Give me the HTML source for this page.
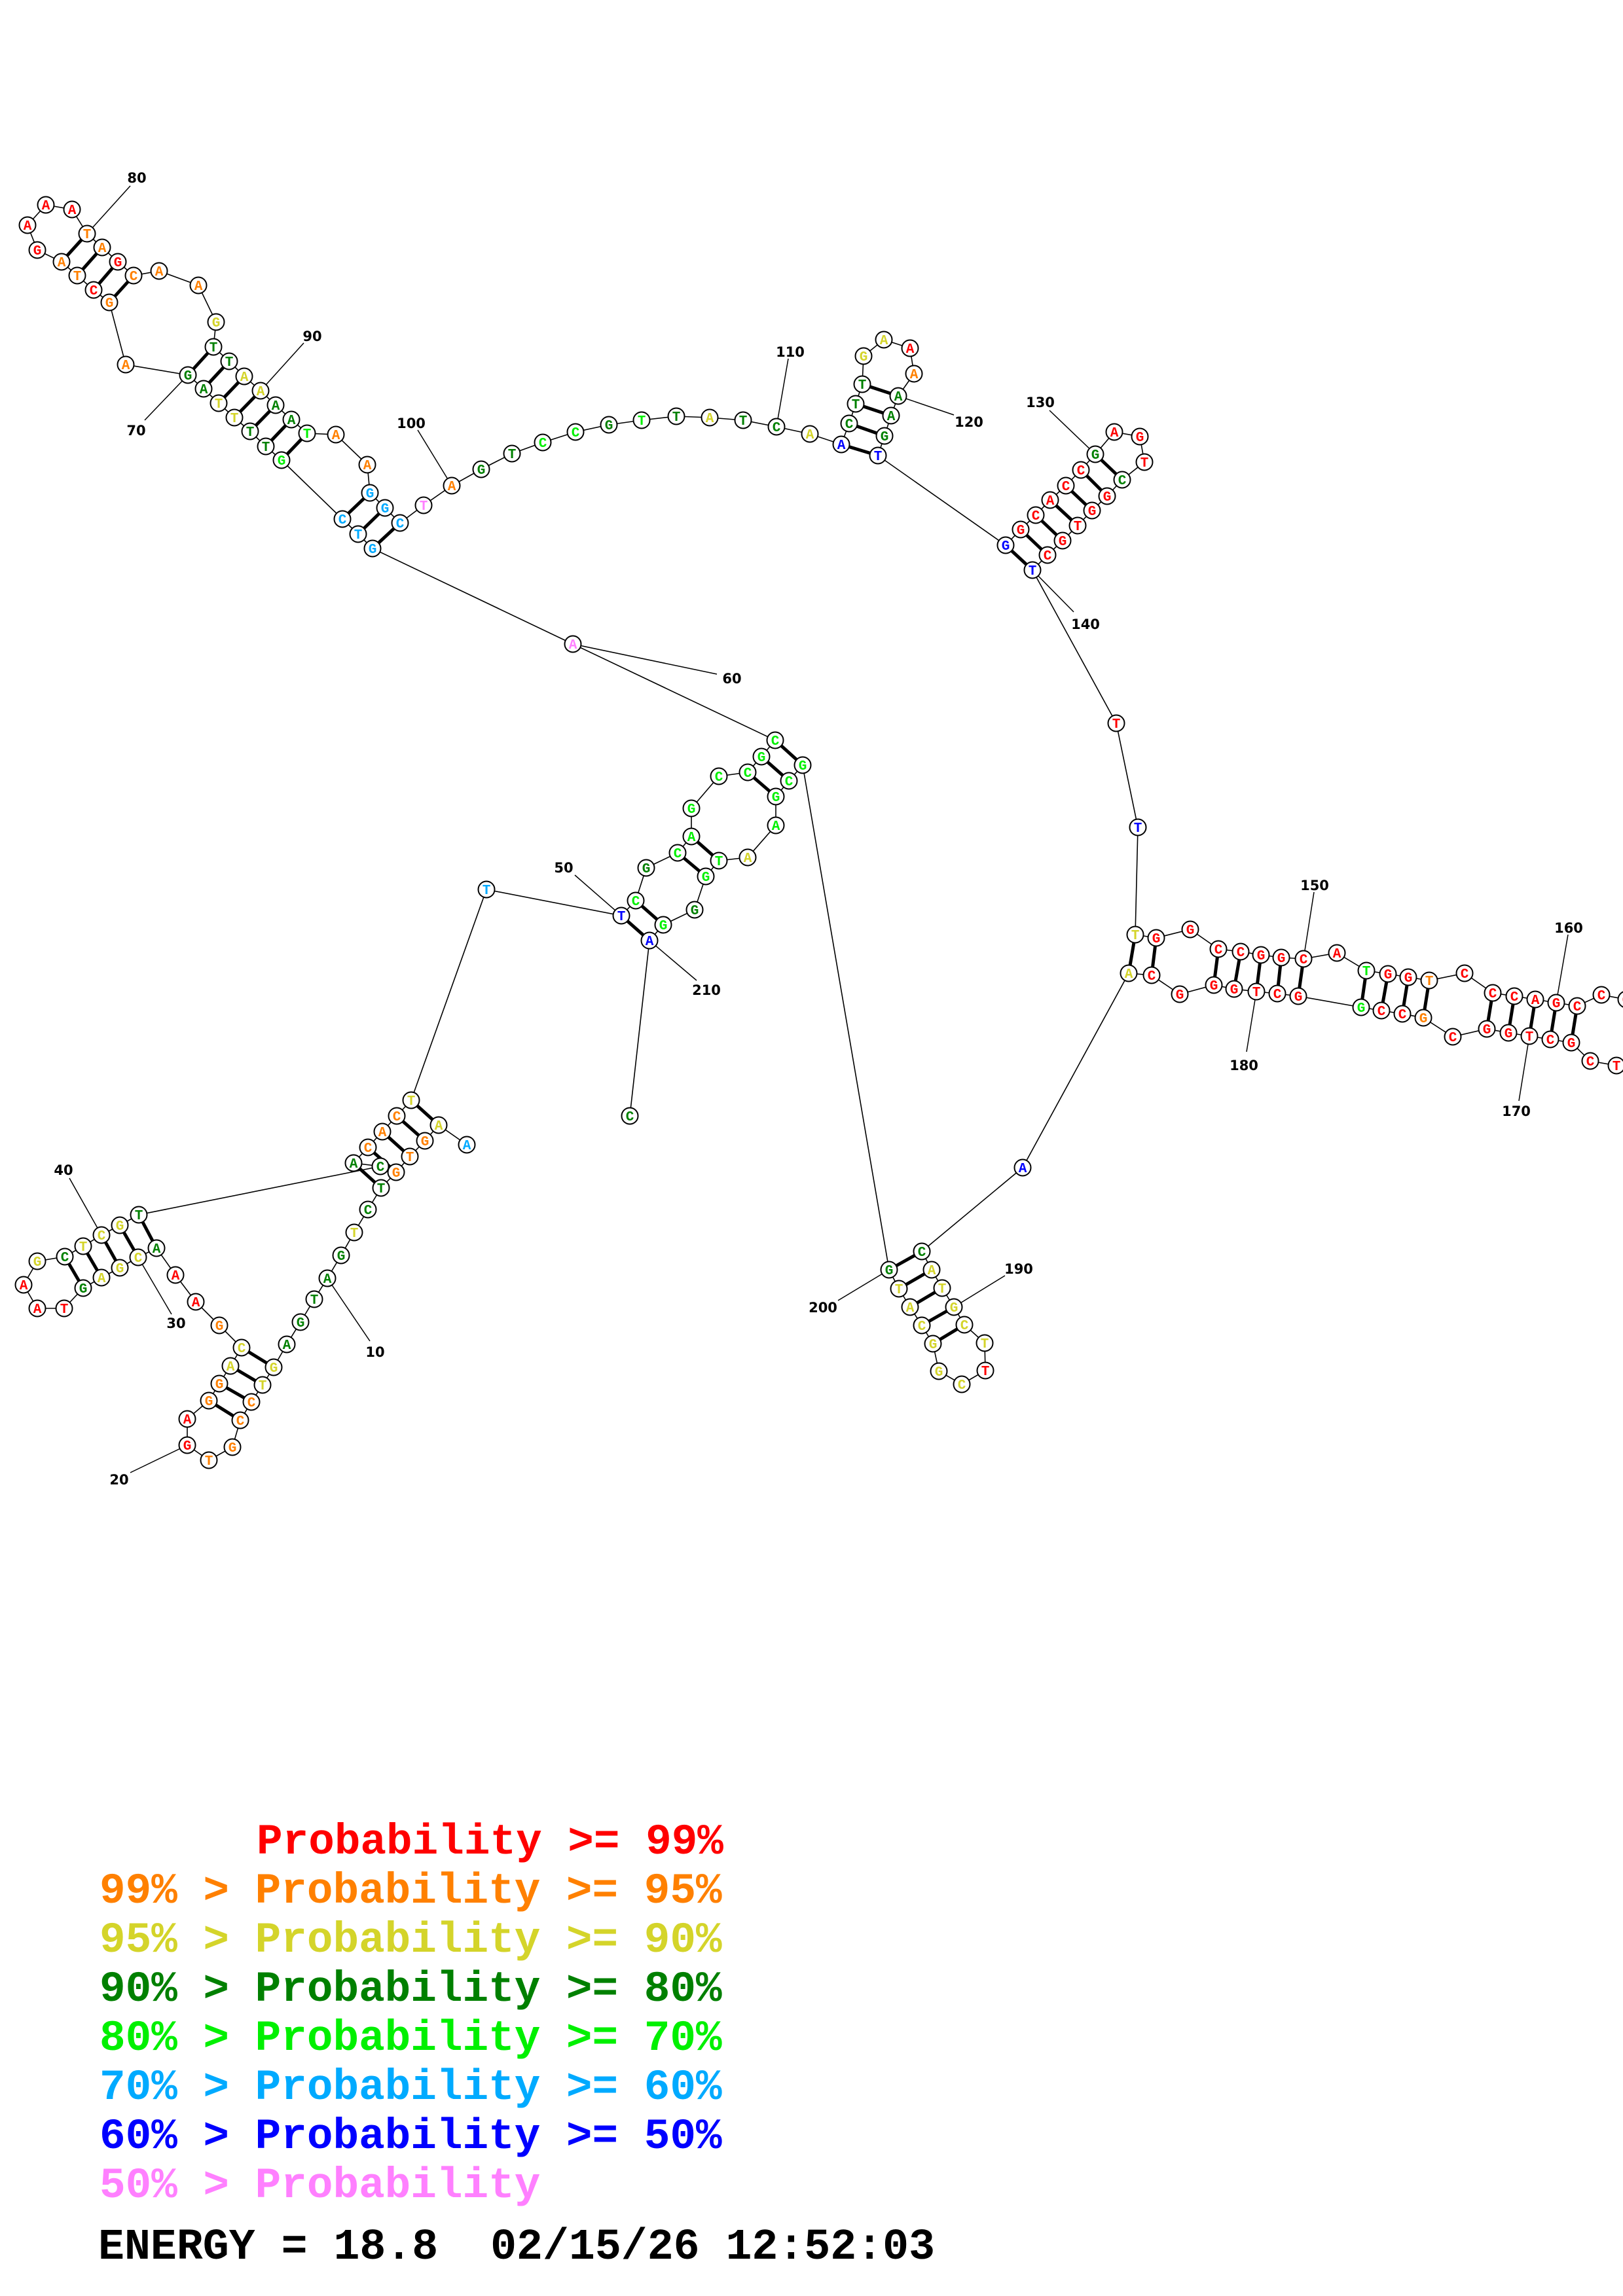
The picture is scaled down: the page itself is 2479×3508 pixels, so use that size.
<!DOCTYPE html>
<html><head><meta charset="utf-8"><style>
html,body{margin:0;padding:0;background:#fff;}
svg{display:block}
.n circle{fill:#fff;stroke:#000;stroke-width:2}
.t text{font-family:"Liberation Mono",monospace;font-weight:bold;font-size:21px;text-anchor:middle}
.r{fill:#ff0000}.o{fill:#ff8000}.y{fill:#d4d42a}.g{fill:#008000}.G{fill:#00f000}.c{fill:#00aaff}.b{fill:#0000ff}.p{fill:#ff80ff}
.lb text{font-family:"DejaVu Sans",sans-serif;font-weight:bold;font-size:21px;text-anchor:middle}
.lg text{font-family:"Liberation Mono",monospace;font-weight:bold;font-size:66px;white-space:pre}
</style></head><body>
<svg width="2479" height="3508" viewBox="0 0 2479 3508" xmlns="http://www.w3.org/2000/svg">
<rect width="2479" height="3508" fill="#fff"/>
<polyline fill="none" stroke="#000" stroke-width="1.6" points="713,1749 670,1719 649,1743 626,1767 605,1791 582,1815 562,1848 541,1883 521,1918 500,1953 480,1985 459,2020 438,2054 418,2089 401,2116 384,2142 367,2170 355,2211 319,2231 286,2208 286,2168 319,2140 335,2114 352,2087 369,2059 335,2025 299,1989 268,1948 239,1907 211,1921 183,1937 155,1952 127,1968 98,1999 57,1999 36,1963 57,1927 99,1920 127,1904 155,1887 183,1872 212,1856 581,1782 540,1777 562,1753 584,1729 606,1705 628,1681 743,1359 949,1399 971,1376 987,1326 1035,1303 1056,1278 1056,1235 1098,1186 1142,1180 1163,1156 1184,1131 875,984 569,838 547,816 523,793 430,703 406,682 382,659 358,638 334,616 311,594 287,573 192,557 167,462 143,443 118,421 94,400 57,382 42,344 70,313 110,320 133,357 156,378 180,400 204,421 243,414 303,436 330,492 326,530 350,552 373,575 398,597 421,619 445,641 469,662 513,664 561,710 565,753 588,776 611,799 647,772 690,742 735,717 782,693 829,676 879,660 930,649 980,642 1033,636 1084,638 1135,642 1186,652 1237,663 1285,679 1297,647 1307,617 1317,587 1319,544 1350,519 1390,532 1396,571 1372,605 1361,635 1351,666 1341,696 1536,833 1559,809 1582,787 1604,764 1628,742 1651,718 1673,694 1702,660 1741,667 1748,706 1714,733 1691,758 1668,780 1646,803 1623,826 1600,848 1577,871 1705,1105 1738,1264 1734,1428 1766,1433 1818,1420 1861,1450 1895,1454 1926,1459 1957,1463 1991,1465 2042,1456 2087,1483 2120,1488 2151,1493 2183,1498 2237,1487 2280,1517 2313,1522 2345,1527 2377,1532 2409,1537 2446,1520 2484,1527 2510,1560 2500,1610 2469,1628 2429,1621 2400,1593 2368,1588 2336,1583 2304,1578 2271,1572 2219,1584 2174,1555 2142,1549 2110,1544 2079,1539 1983,1522 1951,1518 1919,1515 1885,1511 1854,1505 1802,1519 1759,1490 1724,1487 1562,1784 1408,1912 1423,1940 1439,1968 1457,1997 1473,2024 1504,2052 1505,2094 1469,2115 1434,2095 1425,2053 1408,2025 1390,1997 1373,1969 1358,1940 1226,1169 1205,1193 1185,1217 1185,1261 1142,1310 1098,1315 1078,1339 1061,1390 1013,1413 992,1437 962,1705"/>
<g stroke="#000" stroke-width="5">
<line x1="628" y1="1681" x2="670" y2="1719"/><line x1="606" y1="1705" x2="649" y2="1743"/><line x1="584" y1="1729" x2="626" y2="1767"/><line x1="562" y1="1753" x2="605" y2="1791"/><line x1="540" y1="1777" x2="582" y2="1815"/>
<line x1="369" y1="2059" x2="418" y2="2089"/><line x1="352" y1="2087" x2="401" y2="2116"/><line x1="335" y1="2114" x2="384" y2="2142"/><line x1="319" y1="2140" x2="367" y2="2170"/>
<line x1="212" y1="1856" x2="239" y2="1907"/><line x1="183" y1="1872" x2="211" y2="1921"/><line x1="155" y1="1887" x2="183" y2="1937"/><line x1="127" y1="1904" x2="155" y2="1952"/><line x1="99" y1="1920" x2="127" y2="1968"/>
<line x1="949" y1="1399" x2="992" y2="1437"/><line x1="971" y1="1376" x2="1013" y2="1413"/><line x1="1035" y1="1303" x2="1078" y2="1339"/><line x1="1056" y1="1278" x2="1098" y2="1315"/><line x1="1142" y1="1180" x2="1185" y2="1217"/><line x1="1163" y1="1156" x2="1205" y2="1193"/><line x1="1184" y1="1131" x2="1226" y2="1169"/>
<line x1="569" y1="838" x2="611" y2="799"/><line x1="547" y1="816" x2="588" y2="776"/><line x1="523" y1="793" x2="565" y2="753"/>
<line x1="430" y1="703" x2="469" y2="662"/><line x1="406" y1="682" x2="445" y2="641"/><line x1="382" y1="659" x2="421" y2="619"/><line x1="358" y1="638" x2="398" y2="597"/><line x1="334" y1="616" x2="373" y2="575"/><line x1="311" y1="594" x2="350" y2="552"/><line x1="287" y1="573" x2="326" y2="530"/>
<line x1="94" y1="400" x2="133" y2="357"/><line x1="118" y1="421" x2="156" y2="378"/><line x1="143" y1="443" x2="180" y2="400"/><line x1="167" y1="462" x2="204" y2="421"/>
<line x1="1285" y1="679" x2="1341" y2="696"/><line x1="1297" y1="647" x2="1351" y2="666"/><line x1="1307" y1="617" x2="1361" y2="635"/><line x1="1317" y1="587" x2="1372" y2="605"/>
<line x1="1536" y1="833" x2="1577" y2="871"/><line x1="1559" y1="809" x2="1600" y2="848"/><line x1="1582" y1="787" x2="1623" y2="826"/><line x1="1604" y1="764" x2="1646" y2="803"/><line x1="1628" y1="742" x2="1668" y2="780"/><line x1="1651" y1="718" x2="1691" y2="758"/><line x1="1673" y1="694" x2="1714" y2="733"/>
<line x1="1734" y1="1428" x2="1724" y2="1487"/><line x1="1766" y1="1433" x2="1759" y2="1490"/><line x1="1861" y1="1450" x2="1854" y2="1505"/><line x1="1895" y1="1454" x2="1885" y2="1511"/><line x1="1926" y1="1459" x2="1919" y2="1515"/><line x1="1957" y1="1463" x2="1951" y2="1518"/><line x1="1991" y1="1465" x2="1983" y2="1522"/>
<line x1="2087" y1="1483" x2="2079" y2="1539"/><line x1="2120" y1="1488" x2="2110" y2="1544"/><line x1="2151" y1="1493" x2="2142" y2="1549"/><line x1="2183" y1="1498" x2="2174" y2="1555"/>
<line x1="2280" y1="1517" x2="2271" y2="1572"/><line x1="2313" y1="1522" x2="2304" y2="1578"/><line x1="2345" y1="1527" x2="2336" y2="1583"/><line x1="2377" y1="1532" x2="2368" y2="1588"/><line x1="2409" y1="1537" x2="2400" y2="1593"/>
<line x1="1408" y1="1912" x2="1358" y2="1940"/><line x1="1423" y1="1940" x2="1373" y2="1969"/><line x1="1439" y1="1968" x2="1390" y2="1997"/><line x1="1457" y1="1997" x2="1408" y2="2025"/><line x1="1473" y1="2024" x2="1425" y2="2053"/>
</g>
<g stroke="#000" stroke-width="1.5">
<line x1="565" y1="2049" x2="500" y2="1953"/><line x1="199" y1="2250" x2="286" y2="2208"/><line x1="262" y1="2008" x2="211" y2="1921"/><line x1="106" y1="1800" x2="155" y2="1887"/>
<line x1="878" y1="1337" x2="949" y2="1399"/><line x1="1095" y1="1030" x2="875" y2="984"/><line x1="221" y1="642" x2="287" y2="573"/><line x1="199" y1="284" x2="133" y2="357"/>
<line x1="464" y1="524" x2="398" y2="597"/><line x1="638" y1="657" x2="690" y2="742"/><line x1="1204" y1="548" x2="1186" y2="652"/><line x1="1457" y1="634" x2="1372" y2="605"/>
<line x1="1603" y1="627" x2="1673" y2="694"/><line x1="1640" y1="935" x2="1577" y2="871"/><line x1="2007" y1="1363" x2="1991" y2="1465"/><line x1="2395" y1="1428" x2="2377" y2="1532"/>
<line x1="2320" y1="1682" x2="2336" y2="1583"/><line x1="1904" y1="1607" x2="1919" y2="1515"/><line x1="1535" y1="1949" x2="1457" y2="1997"/><line x1="1280" y1="1987" x2="1358" y2="1940"/><line x1="1064" y1="1498" x2="992" y2="1437"/>
</g>
<g class="lb">
<text x="573" y="2073">10</text><text x="182" y="2268">20</text><text x="269" y="2029">30</text><text x="97" y="1795">40</text><text x="861" y="1333">50</text><text x="1118" y="1044">60</text><text x="208" y="665">70</text><text x="209" y="279">80</text><text x="477" y="521">90</text><text x="628" y="654">100</text><text x="1207" y="545">110</text><text x="1480" y="652">120</text><text x="1589" y="622">130</text><text x="1658" y="961">140</text><text x="2008" y="1360">150</text><text x="2396" y="1425">160</text><text x="2316" y="1705">170</text><text x="1900" y="1635">180</text><text x="1556" y="1946">190</text><text x="1257" y="2005">200</text><text x="1079" y="1520">210</text>
</g>
<g class="n">
<circle cx="713" cy="1749" r="12.5"/><circle cx="670" cy="1719" r="12.5"/><circle cx="649" cy="1743" r="12.5"/><circle cx="626" cy="1767" r="12.5"/><circle cx="605" cy="1791" r="12.5"/><circle cx="582" cy="1815" r="12.5"/><circle cx="562" cy="1848" r="12.5"/><circle cx="541" cy="1883" r="12.5"/><circle cx="521" cy="1918" r="12.5"/><circle cx="500" cy="1953" r="12.5"/><circle cx="480" cy="1985" r="12.5"/><circle cx="459" cy="2020" r="12.5"/><circle cx="438" cy="2054" r="12.5"/><circle cx="418" cy="2089" r="12.5"/><circle cx="401" cy="2116" r="12.5"/><circle cx="384" cy="2142" r="12.5"/><circle cx="367" cy="2170" r="12.5"/><circle cx="355" cy="2211" r="12.5"/><circle cx="319" cy="2231" r="12.5"/><circle cx="286" cy="2208" r="12.5"/><circle cx="286" cy="2168" r="12.5"/><circle cx="319" cy="2140" r="12.5"/><circle cx="335" cy="2114" r="12.5"/><circle cx="352" cy="2087" r="12.5"/><circle cx="369" cy="2059" r="12.5"/><circle cx="335" cy="2025" r="12.5"/><circle cx="299" cy="1989" r="12.5"/><circle cx="268" cy="1948" r="12.5"/><circle cx="239" cy="1907" r="12.5"/><circle cx="211" cy="1921" r="12.5"/><circle cx="183" cy="1937" r="12.5"/><circle cx="155" cy="1952" r="12.5"/><circle cx="127" cy="1968" r="12.5"/><circle cx="98" cy="1999" r="12.5"/><circle cx="57" cy="1999" r="12.5"/><circle cx="36" cy="1963" r="12.5"/><circle cx="57" cy="1927" r="12.5"/><circle cx="99" cy="1920" r="12.5"/><circle cx="127" cy="1904" r="12.5"/><circle cx="155" cy="1887" r="12.5"/><circle cx="183" cy="1872" r="12.5"/><circle cx="212" cy="1856" r="12.5"/><circle cx="581" cy="1782" r="12.5"/><circle cx="540" cy="1777" r="12.5"/><circle cx="562" cy="1753" r="12.5"/><circle cx="584" cy="1729" r="12.5"/><circle cx="606" cy="1705" r="12.5"/><circle cx="628" cy="1681" r="12.5"/><circle cx="743" cy="1359" r="12.5"/><circle cx="949" cy="1399" r="12.5"/><circle cx="971" cy="1376" r="12.5"/><circle cx="987" cy="1326" r="12.5"/><circle cx="1035" cy="1303" r="12.5"/><circle cx="1056" cy="1278" r="12.5"/><circle cx="1056" cy="1235" r="12.5"/><circle cx="1098" cy="1186" r="12.5"/><circle cx="1142" cy="1180" r="12.5"/><circle cx="1163" cy="1156" r="12.5"/><circle cx="1184" cy="1131" r="12.5"/><circle cx="875" cy="984" r="12.5"/><circle cx="569" cy="838" r="12.5"/><circle cx="547" cy="816" r="12.5"/><circle cx="523" cy="793" r="12.5"/><circle cx="430" cy="703" r="12.5"/><circle cx="406" cy="682" r="12.5"/><circle cx="382" cy="659" r="12.5"/><circle cx="358" cy="638" r="12.5"/><circle cx="334" cy="616" r="12.5"/><circle cx="311" cy="594" r="12.5"/><circle cx="287" cy="573" r="12.5"/><circle cx="192" cy="557" r="12.5"/><circle cx="167" cy="462" r="12.5"/><circle cx="143" cy="443" r="12.5"/><circle cx="118" cy="421" r="12.5"/><circle cx="94" cy="400" r="12.5"/><circle cx="57" cy="382" r="12.5"/><circle cx="42" cy="344" r="12.5"/><circle cx="70" cy="313" r="12.5"/><circle cx="110" cy="320" r="12.5"/><circle cx="133" cy="357" r="12.5"/><circle cx="156" cy="378" r="12.5"/><circle cx="180" cy="400" r="12.5"/><circle cx="204" cy="421" r="12.5"/><circle cx="243" cy="414" r="12.5"/><circle cx="303" cy="436" r="12.5"/><circle cx="330" cy="492" r="12.5"/><circle cx="326" cy="530" r="12.5"/><circle cx="350" cy="552" r="12.5"/><circle cx="373" cy="575" r="12.5"/><circle cx="398" cy="597" r="12.5"/><circle cx="421" cy="619" r="12.5"/><circle cx="445" cy="641" r="12.5"/><circle cx="469" cy="662" r="12.5"/><circle cx="513" cy="664" r="12.5"/><circle cx="561" cy="710" r="12.5"/><circle cx="565" cy="753" r="12.5"/><circle cx="588" cy="776" r="12.5"/><circle cx="611" cy="799" r="12.5"/><circle cx="647" cy="772" r="12.5"/><circle cx="690" cy="742" r="12.5"/><circle cx="735" cy="717" r="12.5"/><circle cx="782" cy="693" r="12.5"/><circle cx="829" cy="676" r="12.5"/><circle cx="879" cy="660" r="12.5"/><circle cx="930" cy="649" r="12.5"/><circle cx="980" cy="642" r="12.5"/><circle cx="1033" cy="636" r="12.5"/><circle cx="1084" cy="638" r="12.5"/><circle cx="1135" cy="642" r="12.5"/><circle cx="1186" cy="652" r="12.5"/><circle cx="1237" cy="663" r="12.5"/><circle cx="1285" cy="679" r="12.5"/><circle cx="1297" cy="647" r="12.5"/><circle cx="1307" cy="617" r="12.5"/><circle cx="1317" cy="587" r="12.5"/><circle cx="1319" cy="544" r="12.5"/><circle cx="1350" cy="519" r="12.5"/><circle cx="1390" cy="532" r="12.5"/><circle cx="1396" cy="571" r="12.5"/><circle cx="1372" cy="605" r="12.5"/><circle cx="1361" cy="635" r="12.5"/><circle cx="1351" cy="666" r="12.5"/><circle cx="1341" cy="696" r="12.5"/><circle cx="1536" cy="833" r="12.5"/><circle cx="1559" cy="809" r="12.5"/><circle cx="1582" cy="787" r="12.5"/><circle cx="1604" cy="764" r="12.5"/><circle cx="1628" cy="742" r="12.5"/><circle cx="1651" cy="718" r="12.5"/><circle cx="1673" cy="694" r="12.5"/><circle cx="1702" cy="660" r="12.5"/><circle cx="1741" cy="667" r="12.5"/><circle cx="1748" cy="706" r="12.5"/><circle cx="1714" cy="733" r="12.5"/><circle cx="1691" cy="758" r="12.5"/><circle cx="1668" cy="780" r="12.5"/><circle cx="1646" cy="803" r="12.5"/><circle cx="1623" cy="826" r="12.5"/><circle cx="1600" cy="848" r="12.5"/><circle cx="1577" cy="871" r="12.5"/><circle cx="1705" cy="1105" r="12.5"/><circle cx="1738" cy="1264" r="12.5"/><circle cx="1734" cy="1428" r="12.5"/><circle cx="1766" cy="1433" r="12.5"/><circle cx="1818" cy="1420" r="12.5"/><circle cx="1861" cy="1450" r="12.5"/><circle cx="1895" cy="1454" r="12.5"/><circle cx="1926" cy="1459" r="12.5"/><circle cx="1957" cy="1463" r="12.5"/><circle cx="1991" cy="1465" r="12.5"/><circle cx="2042" cy="1456" r="12.5"/><circle cx="2087" cy="1483" r="12.5"/><circle cx="2120" cy="1488" r="12.5"/><circle cx="2151" cy="1493" r="12.5"/><circle cx="2183" cy="1498" r="12.5"/><circle cx="2237" cy="1487" r="12.5"/><circle cx="2280" cy="1517" r="12.5"/><circle cx="2313" cy="1522" r="12.5"/><circle cx="2345" cy="1527" r="12.5"/><circle cx="2377" cy="1532" r="12.5"/><circle cx="2409" cy="1537" r="12.5"/><circle cx="2446" cy="1520" r="12.5"/><circle cx="2484" cy="1527" r="12.5"/><circle cx="2469" cy="1628" r="12.5"/><circle cx="2429" cy="1621" r="12.5"/><circle cx="2400" cy="1593" r="12.5"/><circle cx="2368" cy="1588" r="12.5"/><circle cx="2336" cy="1583" r="12.5"/><circle cx="2304" cy="1578" r="12.5"/><circle cx="2271" cy="1572" r="12.5"/><circle cx="2219" cy="1584" r="12.5"/><circle cx="2174" cy="1555" r="12.5"/><circle cx="2142" cy="1549" r="12.5"/><circle cx="2110" cy="1544" r="12.5"/><circle cx="2079" cy="1539" r="12.5"/><circle cx="1983" cy="1522" r="12.5"/><circle cx="1951" cy="1518" r="12.5"/><circle cx="1919" cy="1515" r="12.5"/><circle cx="1885" cy="1511" r="12.5"/><circle cx="1854" cy="1505" r="12.5"/><circle cx="1802" cy="1519" r="12.5"/><circle cx="1759" cy="1490" r="12.5"/><circle cx="1724" cy="1487" r="12.5"/><circle cx="1562" cy="1784" r="12.5"/><circle cx="1408" cy="1912" r="12.5"/><circle cx="1423" cy="1940" r="12.5"/><circle cx="1439" cy="1968" r="12.5"/><circle cx="1457" cy="1997" r="12.5"/><circle cx="1473" cy="2024" r="12.5"/><circle cx="1504" cy="2052" r="12.5"/><circle cx="1505" cy="2094" r="12.5"/><circle cx="1469" cy="2115" r="12.5"/><circle cx="1434" cy="2095" r="12.5"/><circle cx="1425" cy="2053" r="12.5"/><circle cx="1408" cy="2025" r="12.5"/><circle cx="1390" cy="1997" r="12.5"/><circle cx="1373" cy="1969" r="12.5"/><circle cx="1358" cy="1940" r="12.5"/><circle cx="1226" cy="1169" r="12.5"/><circle cx="1205" cy="1193" r="12.5"/><circle cx="1185" cy="1217" r="12.5"/><circle cx="1185" cy="1261" r="12.5"/><circle cx="1142" cy="1310" r="12.5"/><circle cx="1098" cy="1315" r="12.5"/><circle cx="1078" cy="1339" r="12.5"/><circle cx="1061" cy="1390" r="12.5"/><circle cx="1013" cy="1413" r="12.5"/><circle cx="992" cy="1437" r="12.5"/><circle cx="962" cy="1705" r="12.5"/>
</g>
<g class="t" transform="translate(0,7)">
<text x="713" y="1749" class="c">A</text><text x="670" y="1719" class="y">A</text><text x="649" y="1743" class="o">G</text><text x="626" y="1767" class="o">T</text><text x="605" y="1791" class="o">G</text><text x="582" y="1815" class="g">T</text><text x="562" y="1848" class="g">C</text><text x="541" y="1883" class="y">T</text><text x="521" y="1918" class="g">G</text><text x="500" y="1953" class="g">A</text><text x="480" y="1985" class="g">T</text><text x="459" y="2020" class="g">G</text><text x="438" y="2054" class="g">A</text><text x="418" y="2089" class="y">G</text><text x="401" y="2116" class="y">T</text><text x="384" y="2142" class="o">C</text><text x="367" y="2170" class="o">C</text><text x="355" y="2211" class="o">G</text><text x="319" y="2231" class="o">T</text><text x="286" y="2208" class="r">G</text><text x="286" y="2168" class="r">A</text><text x="319" y="2140" class="o">G</text><text x="335" y="2114" class="o">G</text><text x="352" y="2087" class="y">A</text><text x="369" y="2059" class="y">C</text><text x="335" y="2025" class="o">G</text><text x="299" y="1989" class="r">A</text><text x="268" y="1948" class="r">A</text><text x="239" y="1907" class="g">A</text><text x="211" y="1921" class="y">C</text><text x="183" y="1937" class="y">G</text><text x="155" y="1952" class="y">A</text><text x="127" y="1968" class="g">G</text><text x="98" y="1999" class="r">T</text><text x="57" y="1999" class="r">A</text><text x="36" y="1963" class="r">A</text><text x="57" y="1927" class="y">G</text><text x="99" y="1920" class="g">C</text><text x="127" y="1904" class="y">T</text><text x="155" y="1887" class="y">C</text><text x="183" y="1872" class="y">G</text><text x="212" y="1856" class="g">T</text><text x="581" y="1782" class="g">C</text><text x="540" y="1777" class="g">A</text><text x="562" y="1753" class="o">C</text><text x="584" y="1729" class="o">A</text><text x="606" y="1705" class="o">C</text><text x="628" y="1681" class="y">T</text><text x="743" y="1359" class="c">T</text><text x="949" y="1399" class="b">T</text><text x="971" y="1376" class="G">C</text><text x="987" y="1326" class="g">G</text><text x="1035" y="1303" class="G">C</text><text x="1056" y="1278" class="G">A</text><text x="1056" y="1235" class="G">G</text><text x="1098" y="1186" class="G">C</text><text x="1142" y="1180" class="G">C</text><text x="1163" y="1156" class="G">G</text><text x="1184" y="1131" class="G">C</text><text x="875" y="984" class="p">A</text><text x="569" y="838" class="c">G</text><text x="547" y="816" class="c">T</text><text x="523" y="793" class="c">C</text><text x="430" y="703" class="G">G</text><text x="406" y="682" class="g">T</text><text x="382" y="659" class="g">T</text><text x="358" y="638" class="y">T</text><text x="334" y="616" class="y">T</text><text x="311" y="594" class="g">A</text><text x="287" y="573" class="g">G</text><text x="192" y="557" class="o">A</text><text x="167" y="462" class="o">G</text><text x="143" y="443" class="r">C</text><text x="118" y="421" class="o">T</text><text x="94" y="400" class="o">A</text><text x="57" y="382" class="r">G</text><text x="42" y="344" class="r">A</text><text x="70" y="313" class="r">A</text><text x="110" y="320" class="r">A</text><text x="133" y="357" class="o">T</text><text x="156" y="378" class="o">A</text><text x="180" y="400" class="r">G</text><text x="204" y="421" class="o">C</text><text x="243" y="414" class="o">A</text><text x="303" y="436" class="o">A</text><text x="330" y="492" class="y">G</text><text x="326" y="530" class="g">T</text><text x="350" y="552" class="g">T</text><text x="373" y="575" class="y">A</text><text x="398" y="597" class="y">A</text><text x="421" y="619" class="g">A</text><text x="445" y="641" class="g">A</text><text x="469" y="662" class="G">T</text><text x="513" y="664" class="o">A</text><text x="561" y="710" class="o">A</text><text x="565" y="753" class="c">G</text><text x="588" y="776" class="c">G</text><text x="611" y="799" class="c">C</text><text x="647" y="772" class="p">T</text><text x="690" y="742" class="o">A</text><text x="735" y="717" class="g">G</text><text x="782" y="693" class="g">T</text><text x="829" y="676" class="G">C</text><text x="879" y="660" class="G">C</text><text x="930" y="649" class="g">G</text><text x="980" y="642" class="G">T</text><text x="1033" y="636" class="g">T</text><text x="1084" y="638" class="y">A</text><text x="1135" y="642" class="g">T</text><text x="1186" y="652" class="g">C</text><text x="1237" y="663" class="y">A</text><text x="1285" y="679" class="b">A</text><text x="1297" y="647" class="g">C</text><text x="1307" y="617" class="g">T</text><text x="1317" y="587" class="g">T</text><text x="1319" y="544" class="y">G</text><text x="1350" y="519" class="y">A</text><text x="1390" y="532" class="r">A</text><text x="1396" y="571" class="o">A</text><text x="1372" y="605" class="g">A</text><text x="1361" y="635" class="g">A</text><text x="1351" y="666" class="g">G</text><text x="1341" y="696" class="b">T</text><text x="1536" y="833" class="b">G</text><text x="1559" y="809" class="r">G</text><text x="1582" y="787" class="r">C</text><text x="1604" y="764" class="r">A</text><text x="1628" y="742" class="r">C</text><text x="1651" y="718" class="r">C</text><text x="1673" y="694" class="g">G</text><text x="1702" y="660" class="r">A</text><text x="1741" y="667" class="r">G</text><text x="1748" y="706" class="r">T</text><text x="1714" y="733" class="g">C</text><text x="1691" y="758" class="r">G</text><text x="1668" y="780" class="r">G</text><text x="1646" y="803" class="r">T</text><text x="1623" y="826" class="r">G</text><text x="1600" y="848" class="r">C</text><text x="1577" y="871" class="b">T</text><text x="1705" y="1105" class="r">T</text><text x="1738" y="1264" class="b">T</text><text x="1734" y="1428" class="y">T</text><text x="1766" y="1433" class="r">G</text><text x="1818" y="1420" class="r">G</text><text x="1861" y="1450" class="r">C</text><text x="1895" y="1454" class="r">C</text><text x="1926" y="1459" class="r">G</text><text x="1957" y="1463" class="r">G</text><text x="1991" y="1465" class="r">C</text><text x="2042" y="1456" class="r">A</text><text x="2087" y="1483" class="G">T</text><text x="2120" y="1488" class="r">G</text><text x="2151" y="1493" class="r">G</text><text x="2183" y="1498" class="o">T</text><text x="2237" y="1487" class="r">C</text><text x="2280" y="1517" class="r">C</text><text x="2313" y="1522" class="r">C</text><text x="2345" y="1527" class="r">A</text><text x="2377" y="1532" class="r">G</text><text x="2409" y="1537" class="r">C</text><text x="2446" y="1520" class="r">C</text><text x="2484" y="1527" class="r">C</text><text x="2469" y="1628" class="r">T</text><text x="2429" y="1621" class="r">C</text><text x="2400" y="1593" class="r">G</text><text x="2368" y="1588" class="r">C</text><text x="2336" y="1583" class="r">T</text><text x="2304" y="1578" class="r">G</text><text x="2271" y="1572" class="r">G</text><text x="2219" y="1584" class="r">C</text><text x="2174" y="1555" class="o">G</text><text x="2142" y="1549" class="r">C</text><text x="2110" y="1544" class="r">C</text><text x="2079" y="1539" class="G">G</text><text x="1983" y="1522" class="r">G</text><text x="1951" y="1518" class="r">C</text><text x="1919" y="1515" class="r">T</text><text x="1885" y="1511" class="r">G</text><text x="1854" y="1505" class="r">G</text><text x="1802" y="1519" class="r">G</text><text x="1759" y="1490" class="r">C</text><text x="1724" y="1487" class="y">A</text><text x="1562" y="1784" class="b">A</text><text x="1408" y="1912" class="g">C</text><text x="1423" y="1940" class="y">A</text><text x="1439" y="1968" class="y">T</text><text x="1457" y="1997" class="y">G</text><text x="1473" y="2024" class="y">C</text><text x="1504" y="2052" class="y">T</text><text x="1505" y="2094" class="r">T</text><text x="1469" y="2115" class="y">C</text><text x="1434" y="2095" class="y">G</text><text x="1425" y="2053" class="y">G</text><text x="1408" y="2025" class="y">C</text><text x="1390" y="1997" class="y">A</text><text x="1373" y="1969" class="y">T</text><text x="1358" y="1940" class="g">G</text><text x="1226" y="1169" class="G">G</text><text x="1205" y="1193" class="G">C</text><text x="1185" y="1217" class="G">G</text><text x="1185" y="1261" class="G">A</text><text x="1142" y="1310" class="y">A</text><text x="1098" y="1315" class="G">T</text><text x="1078" y="1339" class="G">G</text><text x="1061" y="1390" class="g">G</text><text x="1013" y="1413" class="G">G</text><text x="992" y="1437" class="b">A</text><text x="962" y="1705" class="g">C</text>
</g>
<g class="lg">
<text x="392" y="2832" fill="#ff0000">Probability &gt;= 99%</text>
<text x="152" y="2907" fill="#ff8000">99% &gt; Probability &gt;= 95%</text>
<text x="152" y="2982" fill="#d4d42a">95% &gt; Probability &gt;= 90%</text>
<text x="152" y="3057" fill="#008000">90% &gt; Probability &gt;= 80%</text>
<text x="152" y="3132" fill="#00f000">80% &gt; Probability &gt;= 70%</text>
<text x="152" y="3207" fill="#00aaff">70% &gt; Probability &gt;= 60%</text>
<text x="152" y="3282" fill="#0000ff">60% &gt; Probability &gt;= 50%</text>
<text x="152" y="3357" fill="#ff80ff">50% &gt; Probability</text>
<text x="150" y="3451" fill="#000" style="font-size:67px" textLength="1278" lengthAdjust="spacingAndGlyphs">ENERGY = 18.8  02/15/26 12:52:03</text>
</g>
</svg>
</body></html>
